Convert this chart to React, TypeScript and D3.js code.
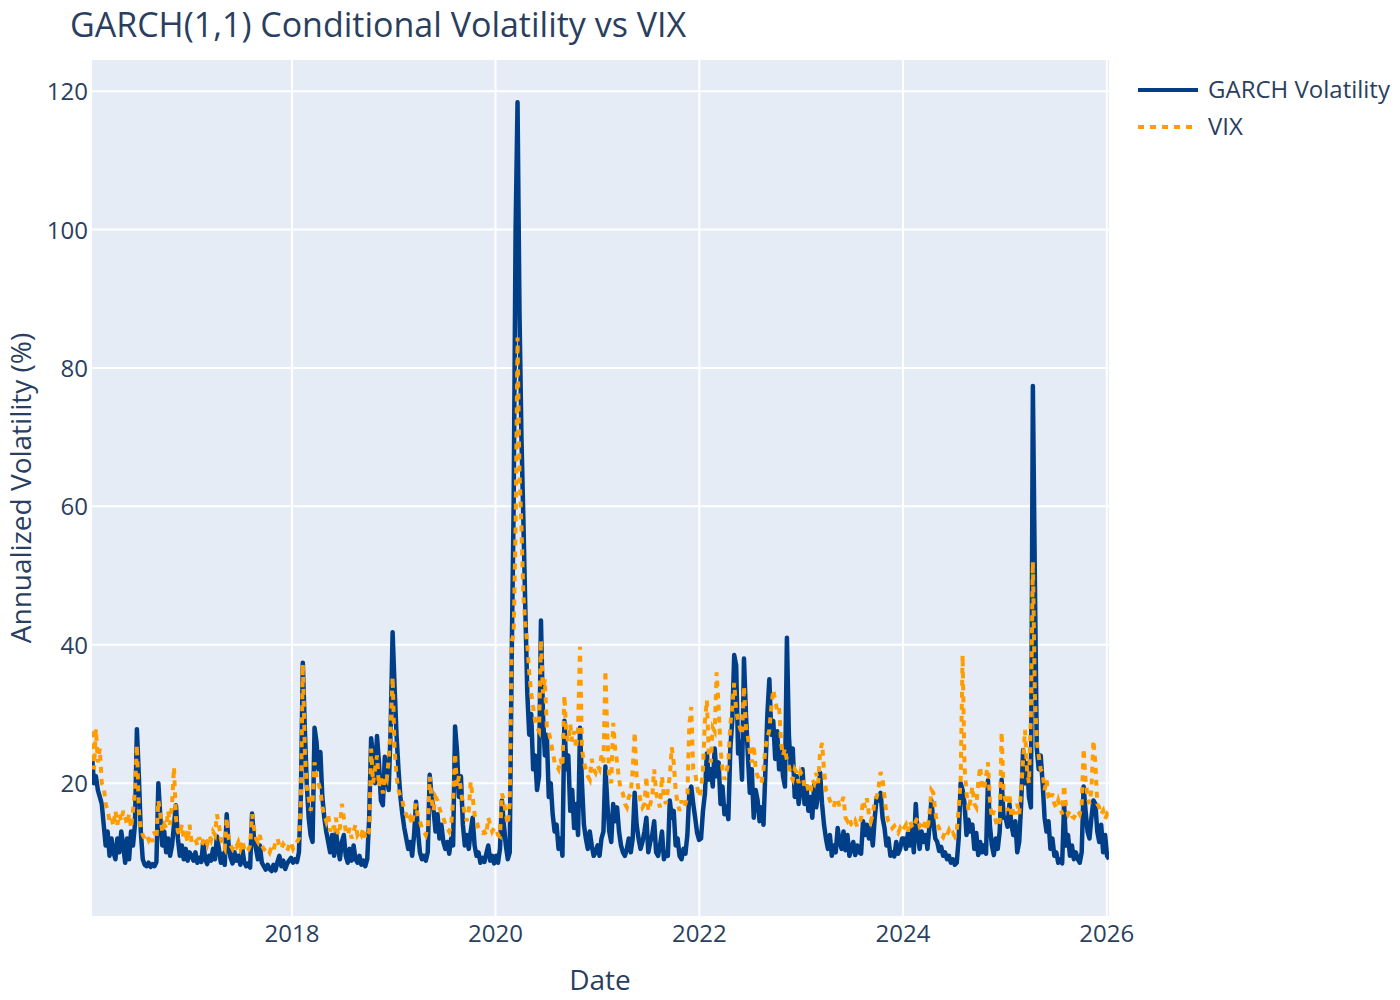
import * as d3 from "d3";

// weekly (Friday) readings, one array per calendar year
const firstFridays = [
  new Date(2016, 0, 15), new Date(2017, 0, 6), new Date(2018, 0, 5), new Date(2019, 0, 4),
  new Date(2020, 0, 3), new Date(2021, 0, 1), new Date(2022, 0, 7), new Date(2023, 0, 6),
  new Date(2024, 0, 5), new Date(2025, 0, 3), new Date(2026, 0, 2),
];

const garch2016 = [24, 20, 21, 19, 18, 17, 14, 11, 13, 9.5, 12, 10, 9, 12, 10, 13, 11, 8.5, 12, 9, 13, 11, 14, 27.8, 21, 13, 9, 8.2, 8, 8.5, 7.9, 8.3, 8, 8.6, 20, 15, 11, 13, 10, 12, 9.5, 11, 14, 16.8, 12, 9.5, 11, 9, 10.5, 8.8, 10];
const garch2017 = [9.5, 8.8, 10, 8.5, 9.2, 8.6, 11.5, 9, 8.3, 9.5, 8.8, 10.5, 9, 12.3, 10.5, 8.5, 9.8, 8.2, 15.5, 11, 9.2, 8.4, 10, 8.8, 9.5, 8.2, 10.5, 8.6, 8, 8.4, 7.8, 15.6, 12, 10.5, 9, 11, 8.5, 8, 7.5, 8.2, 7.6, 7.3, 8.2, 7.4, 8.6, 9.5, 8, 8.8, 7.6, 8.4, 8.8, 9.2];
const garch2018 = [8.5, 9, 8.6, 10, 18, 37.4, 28, 20, 15, 12.5, 11.5, 28, 26, 22, 24.5, 18, 15, 13, 11.5, 10, 12.5, 9.5, 13, 10.5, 9, 11.5, 12.5, 9.5, 8.5, 10.5, 8.8, 11, 9, 8.5, 9.5, 8.2, 8.8, 8, 9, 15, 26.5, 24, 20, 26.8, 23, 17.5, 16.8, 23.8, 21, 19, 28, 41.8];
const garch2019 = [34, 27, 22, 18, 15.5, 13.5, 12, 10.5, 11.5, 9.5, 12.5, 17.3, 13, 10, 9, 9.5, 8.8, 10, 21.2, 18, 16, 13, 15.5, 12, 14, 11.5, 10.5, 11.5, 9.8, 12, 11, 28.2, 24.6, 18, 21, 14, 11, 12.5, 10.5, 13, 15, 11, 9.5, 10, 8.5, 9.2, 8.6, 9.8, 11, 8.8, 9.5, 8.4];
const garch2020 = [9.5, 8.5, 10.5, 17.5, 14, 11, 9, 10, 38, 60, 100, 118.4, 88, 70, 58, 45, 33, 27, 30, 22, 24, 19, 21, 43.5, 30, 24, 27, 18, 20, 15.5, 13, 14, 10.5, 12, 9.5, 29, 22, 24, 16, 19, 13.5, 17, 12.5, 28, 20, 14, 12, 10.5, 13, 11, 9.5, 10];
const garch2021 = [11, 9.5, 12, 13, 22.4, 17, 13, 11.5, 17, 14.5, 16.5, 13, 11, 10, 9.5, 10.5, 12, 10, 12, 18.6, 14, 12, 10.5, 11.5, 13, 15, 10, 11.5, 12.5, 14.5, 10, 9.5, 11, 13, 9, 10, 9.5, 17.5, 15, 16, 11, 12, 9.5, 9, 10.5, 9.8, 12.5, 18.7, 19.5, 17, 15, 12.8, 11.8];
const garch2022 = [12, 16, 18.5, 24.3, 20.5, 22, 19.5, 25, 21, 23, 17, 19.5, 15.5, 16.6, 14.8, 25, 29, 38.5, 37, 24.3, 26, 20.5, 38, 30, 24, 18.6, 22, 15, 19, 17.5, 14.5, 16.5, 14, 22, 30, 35, 27, 29, 23.5, 27.5, 22, 25, 21, 19.5, 41, 27, 22, 25, 18, 21, 17, 19];
const garch2023 = [22, 17, 19.5, 16, 18, 15, 20, 16.5, 18.5, 21.5, 17, 14, 12, 10.5, 12.5, 9.5, 11, 10, 13.5, 11.5, 10.5, 13, 10.3, 12.5, 9.5, 10.5, 11.5, 9.6, 11, 10, 9.8, 14.5, 12.5, 14, 12, 13.5, 11, 15, 18, 17.5, 18.6, 15, 13.5, 11, 12, 9.5, 10, 9.4, 11.5, 9.8, 10.5, 12];
const garch2024 = [12, 10.5, 12.8, 11, 13.5, 10, 17, 12.5, 10.5, 13, 11.5, 12.5, 10.5, 13.7, 17.5, 14.5, 12, 11.5, 10.2, 10.8, 9.5, 10, 9, 9.5, 8.5, 9, 8.2, 8.5, 12, 20, 19, 17, 12.5, 14.7, 13, 14, 10.5, 12.8, 9.6, 11.5, 10, 11, 9.8, 20.4, 13.8, 11, 9.6, 12, 10.5, 13, 20.5, 15];
const garch2025 = [15, 13.7, 17, 14, 12.5, 14.5, 10, 11.5, 17, 24.8, 20, 22.9, 18, 16.5, 77.4, 50, 25, 22, 24, 20, 15, 13, 14.5, 10.5, 12, 9.5, 10, 8.5, 9, 8.4, 17, 11, 12.5, 9.5, 11, 9, 10, 9, 8.5, 10, 19.5, 16, 13, 12, 15, 17.5, 17, 13, 11.5, 14, 10, 12.5];
const garch2026 = [9.5, 9];

const vix2016 = [27.5, 22, 27.8, 23, 25, 20, 19.5, 17, 16, 14.5, 15, 13.8, 16, 14, 15.5, 14.5, 16, 15, 14, 15.5, 13.5, 16, 19, 25.5, 16, 13.5, 12.5, 12, 12.5, 11.8, 12.5, 11.5, 13, 12, 17.5, 15.5, 13, 14, 13.5, 16, 14, 17, 22.3, 15, 13, 12.5, 14, 12, 12.5, 11.5, 14];
const vix2017 = [11.5, 12, 11.8, 11, 12.2, 11, 11.5, 12, 11.2, 12.5, 11.8, 13, 12.5, 15.5, 14, 12, 11, 10.5, 15, 12, 11, 10.5, 11.2, 10.8, 11.5, 10.6, 11.8, 10.5, 10, 10.3, 11, 15.5, 13.5, 12, 11.5, 12.5, 11, 10.5, 10.2, 10.5, 10, 10.8, 10.3, 11.5, 12, 11, 10.5, 11.2, 10.8, 10.2, 11, 11.5];
const vix2018 = [10.5, 11, 11.5, 12, 17.3, 37.2, 25, 19.5, 18, 16, 17.5, 23, 21, 20, 19, 16.5, 15.5, 14.5, 15.5, 13, 14, 13.5, 15, 12.5, 13.5, 17, 15, 13, 12.5, 13.5, 12, 13, 14, 12.5, 13, 12.5, 13.5, 12, 12.5, 13, 25, 20, 22, 24, 19.5, 21, 18.5, 21, 20.5, 23.5, 28, 35.3];
const vix2019 = [25, 21, 19, 18, 17.5, 16, 15.5, 14.5, 15, 14, 16, 17, 15, 14.5, 13.5, 13, 12.5, 13.5, 20.9, 17.5, 16, 18, 17.5, 16.4, 15.5, 15, 14, 13.5, 13, 14, 17.5, 24.3, 19.5, 21, 19, 17, 15.5, 14.5, 16, 20.2, 18, 15.5, 14.5, 13.5, 13, 12.8, 13, 12.5, 15, 14, 13, 13.5];
const vix2020 = [13.5, 12.5, 12.3, 18.5, 17.5, 15.5, 14, 17, 40.5, 41.5, 57, 84.4, 65, 57, 47, 43, 40, 36, 33, 31, 29, 28, 27.5, 40.7, 33, 35, 28, 27.5, 26, 24.5, 23, 22.5, 22, 23.5, 22.4, 32.7, 27, 26, 28.5, 26, 27.5, 25, 28, 39.7, 25, 23, 22, 21, 20.5, 23.5, 22, 21.5];
const vix2021 = [22.5, 22, 24, 23, 36.3, 27, 21, 20, 28.7, 25, 23, 20.5, 19, 18.5, 17, 16.5, 18, 18.5, 22, 27.4, 21, 19, 17.5, 16.5, 17, 21, 16, 17, 18, 22, 18.5, 17.5, 16.5, 21, 18, 17, 19, 21, 25.2, 23, 19, 17, 16, 17.5, 16.5, 17, 18, 28.5, 31, 22, 21.5, 19.5, 18];
const vix2022 = [19, 22, 29, 32, 24, 23, 28, 27.5, 36, 31, 25, 22, 20.5, 21.5, 23, 28.5, 31, 34.5, 30.5, 29, 28, 27, 34, 28, 26.7, 24.5, 23, 25.5, 22, 21, 20.5, 20, 22, 25.2, 26.5, 27.7, 31, 33.5, 32, 30.5, 31, 25.8, 24, 25, 23.3, 22.5, 21, 20.5, 22, 21.5, 20, 21.6];
const vix2023 = [21, 19.5, 20, 19, 18.5, 20.5, 20, 21.5, 20, 24.5, 25.8, 22, 19, 18.5, 17.5, 17, 16.5, 17.8, 17.5, 16.6, 17.2, 18, 15, 14.5, 15, 14, 13.8, 14.5, 13.7, 14, 15, 17.5, 16.5, 17.8, 15.5, 14.5, 15.5, 17.5, 18, 19.5, 21.6, 20.5, 18, 15.5, 14.5, 14.2, 13.5, 13.8, 13.2, 12.8, 13.5, 13];
const vix2024 = [13.5, 14, 13, 14.5, 13.8, 13.5, 14.5, 15, 13.8, 14.2, 13.5, 14.8, 13.2, 15.5, 19, 18.6, 16, 14, 13.5, 12.5, 12.2, 13, 12.5, 13.2, 12.5, 12.8, 12.3, 13, 16.5, 20.4, 38.5, 22.3, 18.6, 16, 17.5, 19.5, 17, 16.5, 20, 22.4, 19.5, 19, 21, 23, 17.5, 15, 16, 14.5, 13.7, 14.5, 27.4, 18.5];
const vix2025 = [17.5, 16, 18.5, 15, 16.5, 15.5, 17, 15.5, 19, 23.5, 27.7, 22, 20, 30, 52, 33, 26, 24, 22, 21.5, 19, 20.5, 18, 17.5, 18.5, 17, 16.5, 17.5, 16.5, 15.5, 19.7, 16.5, 15.5, 16, 15.2, 15, 15.5, 16, 15.5, 17, 25, 20.5, 18, 17, 19, 26.2, 23, 17, 16.5, 15.5, 16, 14.8];
const vix2026 = [15.5, 15];

const garchYears = [garch2016, garch2017, garch2018, garch2019, garch2020, garch2021, garch2022, garch2023, garch2024, garch2025, garch2026];
const vixYears = [vix2016, vix2017, vix2018, vix2019, vix2020, vix2021, vix2022, vix2023, vix2024, vix2025, vix2026];

const seriesNames = ["GARCH Volatility", "VIX"];
const chartTitle = "GARCH(1,1) Conditional Volatility vs VIX";
const yTitle = "Annualized Volatility (%)";
const xTitle = "Date";

type Pt = { date: Date; value: number };

const toSeries = (years: number[][]): Pt[] =>
  years.flatMap((vals, k) =>
    vals.map((v, i) => ({ date: d3.timeDay.offset(firstFridays[k], 7 * i), value: v }))
  );

const FONT = '"Open Sans", "Noto Sans", sans-serif';
const INK = "#2a3f5f";
const BLUE = "#003f88";
const ORANGE = "#ff9d00";

const App = () => {
  const garch = toSeries(garchYears);
  const vix = toSeries(vixYears);

  const left = 92, right = 1109, top = 60, bottom = 916;

  const x = d3
    .scaleTime()
    .domain(d3.extent(garch, (d) => d.date) as [Date, Date])
    .range([left, right]);
  const y = d3.scaleLinear().domain([0.8, 124.5]).range([bottom, top]);

  const line = d3
    .line<Pt>()
    .x((d) => x(d.date))
    .y((d) => y(d.value));

  const xTicks = x.ticks(d3.timeYear.every(2) as any);
  const yTicks = y.ticks(6);

  return (
    <svg
      width={1400}
      height={1000}
      style={{ position: "absolute", left: 0, top: 0, background: "#fff" }}
      fontFamily={FONT}
    >
      <rect x={left} y={top} width={right - left} height={bottom - top} fill="#e5ecf6" />
      <clipPath id="plot-clip">
        <rect x={left} y={top} width={right - left} height={bottom - top} />
      </clipPath>

      {yTicks.map((t) => (
        <g key={"y" + t}>
          <line x1={left} x2={right} y1={y(t)} y2={y(t)} stroke="#fff" strokeWidth={2} />
          <text x={88} y={y(t) + 9} textAnchor="end" fontSize={24} fill={INK}>
            {t}
          </text>
        </g>
      ))}
      {xTicks.map((t) => (
        <g key={"x" + t.getTime()}>
          <line x1={x(t)} x2={x(t)} y1={top} y2={bottom} stroke="#fff" strokeWidth={2} />
          <text x={x(t)} y={942} textAnchor="middle" fontSize={24} fill={INK}>
            {d3.timeFormat("%Y")(t)}
          </text>
        </g>
      ))}

      <g clipPath="url(#plot-clip)">
        <path d={line(garch) ?? ""} fill="none" stroke={BLUE} strokeWidth={4.5} strokeLinejoin="round" />
        <path d={line(vix) ?? ""} fill="none" stroke={ORANGE} strokeWidth={4} strokeDasharray="6,6" />
      </g>

      <text x={70} y={37} fontSize={34} fill={INK}>
        {chartTitle}
      </text>
      <text x={600} y={990} textAnchor="middle" fontSize={28} fill={INK}>
        {xTitle}
      </text>
      <text transform="translate(31,488) rotate(-90)" textAnchor="middle" fontSize={28} fill={INK}>
        {yTitle}
      </text>

      {seriesNames.map((name, i) => {
        const ly = 90 + i * 37;
        return (
          <g key={name}>
            <line
              x1={1138}
              x2={1198}
              y1={ly}
              y2={ly}
              stroke={i === 0 ? BLUE : ORANGE}
              strokeWidth={4}
              strokeDasharray={i === 0 ? undefined : "6,6"}
            />
            <text x={1208} y={ly + 8} fontSize={24} fill={INK}>
              {name}
            </text>
          </g>
        );
      })}
    </svg>
  );
};

export default App;
